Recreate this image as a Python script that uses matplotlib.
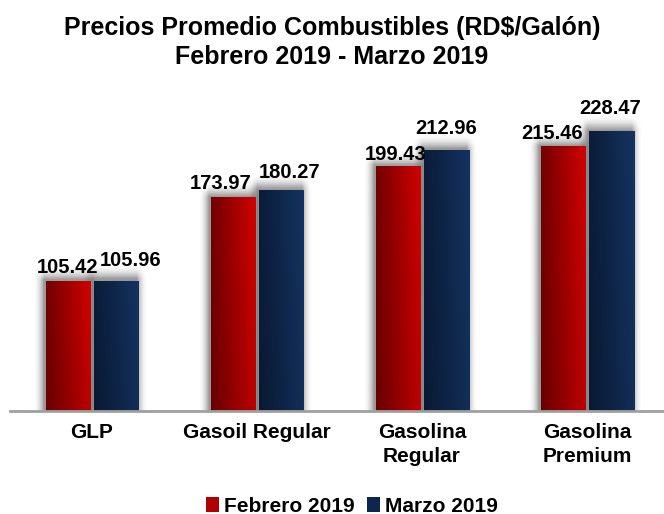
import numpy as np
import matplotlib
matplotlib.use("Agg")
import matplotlib.pyplot as plt
from matplotlib.patches import Patch

categories = ["GLP", "Gasoil Regular", "Gasolina\nRegular", "Gasolina\nPremium"]
feb = [105.42, 173.97, 199.43, 215.46]
mar = [105.96, 180.27, 212.96, 228.47]
series_names = ["Febrero 2019", "Marzo 2019"]

# manual label placement (pixels) as in the original chart
feb_lbl_dx = [-1, -12, -2, -11]
feb_lbl_dy = [9, 9, 7, 8]
mar_lbl_dx = [15, 9, 0, -1]
mar_lbl_dy = [15, 12, 16, 17]

plt.rcParams['font.family'] = ['Liberation Sans', 'DejaVu Sans']
plt.rcParams['font.weight'] = 'bold'

W, H = 664, 514
fig = plt.figure(figsize=(W / 100, H / 100), dpi=100)
base_y = 411
top_y = 90
ax = fig.add_axes([9.5 / W, 1 - base_y / H, 660 / W, (base_y - top_y) / H])
ymax = (base_y - top_y) / 1.2255
ax.set_xlim(-0.5, 3.5)
ax.set_ylim(0, ymax)

bw = 45 / 165
gap = 3 / 165

red_grad = np.array([[0.45, 0.0, 0.0], [0.82, 0.0, 0.0]])
navy_grad = np.array([[0.04, 0.11, 0.22], [0.08, 0.20, 0.38]])


def grad_img(c0, c1, n=64):
    t = np.linspace(0, 1, n)
    tv = np.linspace(0, 1, 32)[:, None]
    img = np.zeros((32, n, 3))
    for k in range(3):
        img[:, :, k] = c0[k] + (c1[k] - c0[k]) * t[None, :]
    img = img * (0.9 + 0.1 * tv[..., None])
    return np.clip(img, 0, 1)


def shadow(ax, x0, x1, h, mx=0.065, my=12.0, dx=-0.012, dy=2.0):
    nx, ny = 80, 80
    xs = np.linspace(x0 - mx + dx, x1 + mx + dx, nx)
    ys = np.linspace(-my, h + my + dy, ny)
    X, Y = np.meshgrid(xs, ys)

    def ramp(d, s):
        return np.clip(1 - d / s, 0, 1) ** 2

    dxl = np.maximum(0, (x0 + dx) - X) + np.maximum(0, X - (x1 + dx))
    dyl = np.maximum(0, Y - (h + dy))
    a = ramp(dxl, mx) * ramp(dyl, my) * 0.6
    img = np.zeros((ny, nx, 4))
    img[..., :3] = 0.33
    img[..., 3] = a
    ax.imshow(img, extent=(xs[0], xs[-1], ys[0], ys[-1]), origin='lower',
              aspect='auto', zorder=1, interpolation='bilinear')


x = np.arange(len(categories))
for i in range(len(categories)):
    for j, (vals, grad) in enumerate([(feb, red_grad), (mar, navy_grad)]):
        if j == 0:
            x0 = x[i] - gap / 2 - bw
        else:
            x0 = x[i] + gap / 2
        x1 = x0 + bw
        h = vals[i]
        shadow(ax, x0, x1, h)
        ax.imshow(grad_img(grad[0], grad[1]), extent=(x0, x1, 0, h), origin='lower',
                  aspect='auto', zorder=2, interpolation='bilinear')

px = 0.72  # points per pixel at dpi 100
for i in range(len(categories)):
    cf = x[i] - gap / 2 - bw / 2
    cm = x[i] + gap / 2 + bw / 2
    ax.annotate(f"{feb[i]:.2f}", (cf, feb[i]), xytext=(feb_lbl_dx[i] * px, feb_lbl_dy[i] * px),
                textcoords='offset points', ha='center', va='baseline',
                fontsize=14.5, fontweight='bold', color='black', zorder=5)
    ax.annotate(f"{mar[i]:.2f}", (cm, mar[i]), xytext=(mar_lbl_dx[i] * px, mar_lbl_dy[i] * px),
                textcoords='offset points', ha='center', va='baseline',
                fontsize=14.5, fontweight='bold', color='black', zorder=5)

ax.set_xticks(x)
ax.set_xticklabels(categories, fontsize=15, fontweight='bold', linespacing=1.27)
ax.tick_params(axis='x', length=0, pad=9)
ax.set_yticks([])
for s in ['top', 'right', 'left']:
    ax.spines[s].set_visible(False)
ax.spines['bottom'].set_color('#a0a0a0')
ax.spines['bottom'].set_linewidth(2)
ax.spines['bottom'].set_zorder(3)

fig.text(0.5, 1 - 42.5 / H, "Precios Promedio Combustibles (RD$/Galón)\nFebrero 2019 - Marzo 2019",
         ha='center', va='center', fontsize=18, fontweight='bold', linespacing=1.26)

handles = [Patch(facecolor='#b00000', edgecolor='none'), Patch(facecolor='#0c2650', edgecolor='none')]
fig.legend(handles, series_names, loc='center', bbox_to_anchor=(0.53, 1 - 506 / H), ncol=2,
           frameon=False, prop={'size': 15, 'weight': 'bold'}, handlelength=0.6, handleheight=0.7,
           handletextpad=0.25, columnspacing=0.6)

fig.savefig("out.png", dpi=100)
